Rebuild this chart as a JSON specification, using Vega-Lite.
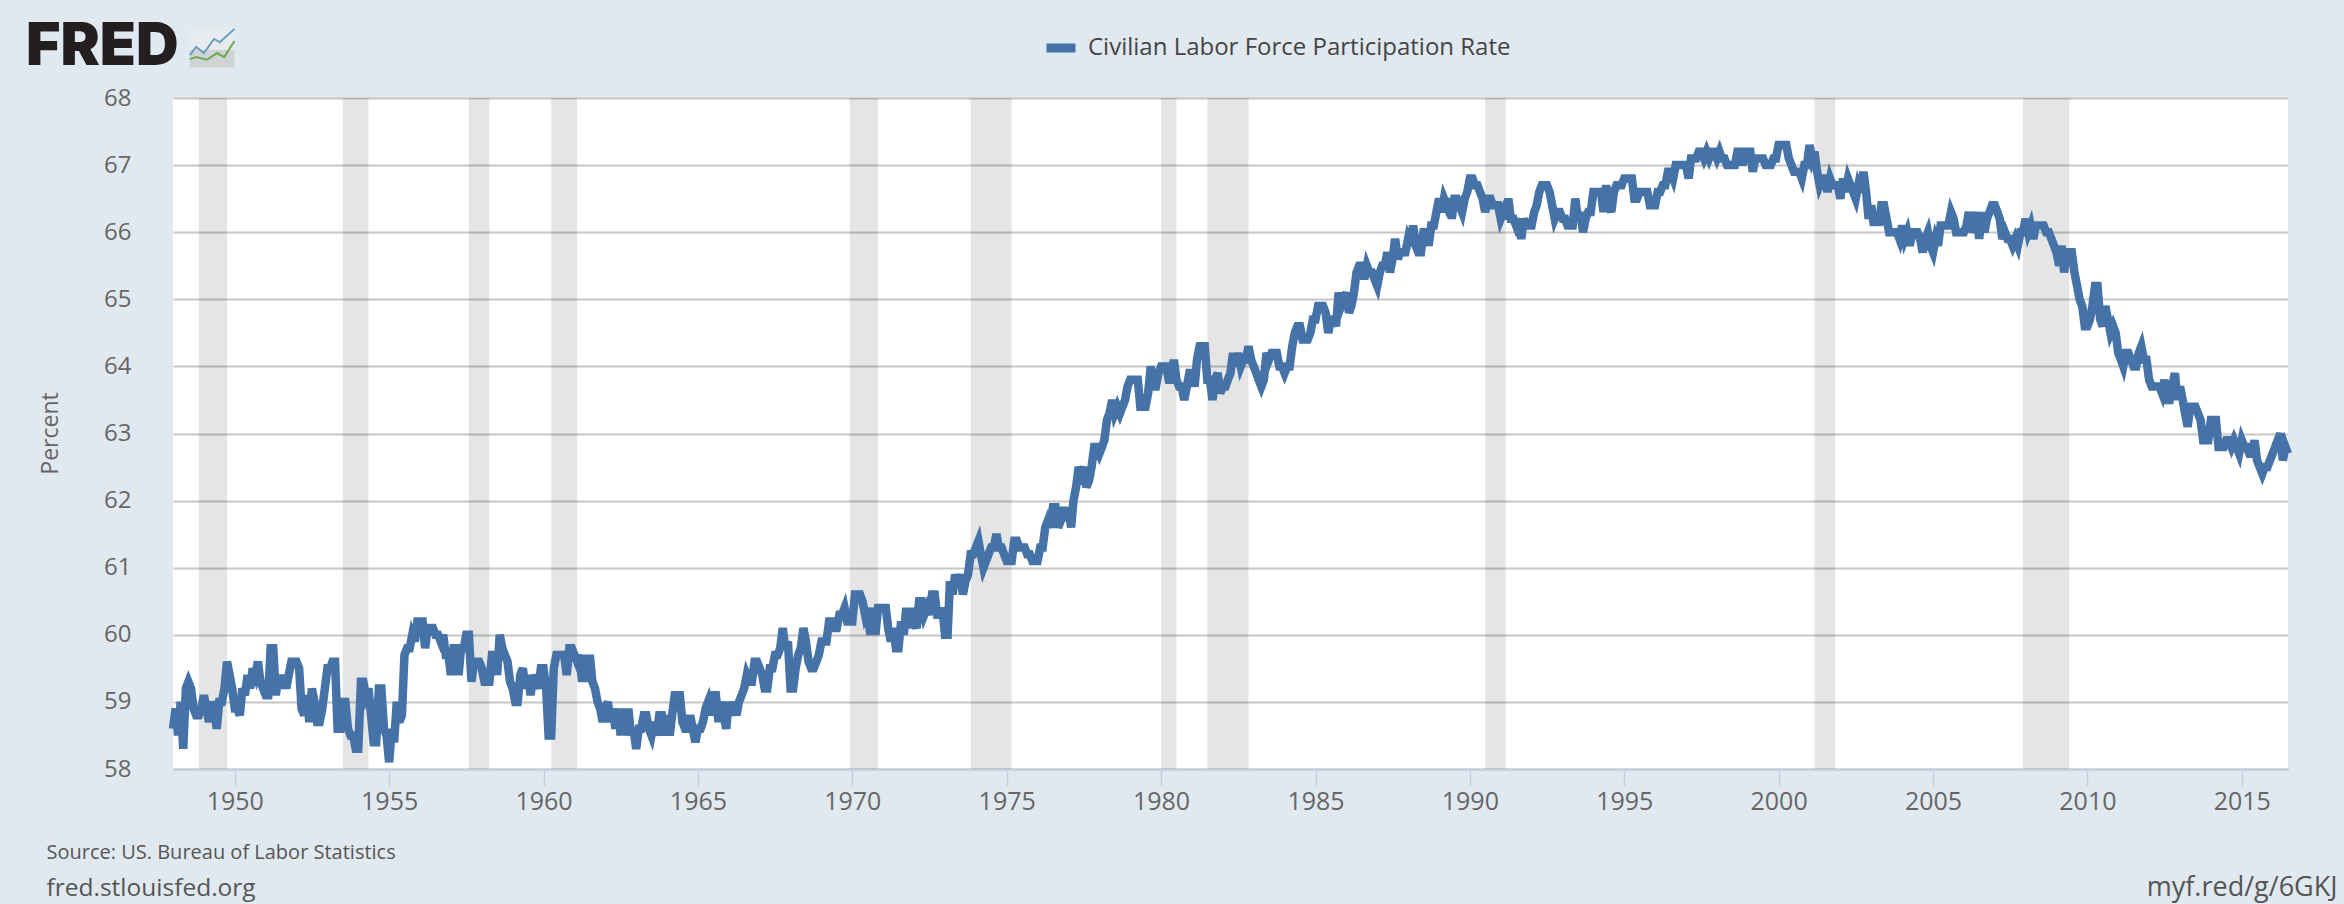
{"$schema":"https://vega.github.io/schema/vega-lite/v6.json","width":2115,"height":671,"autosize":{"type":"none"},"padding":{"left":173,"top":98,"right":56,"bottom":135},"background":"#e1e9f0","view":{"fill":"#ffffff","stroke":null},"title":{"text":"FRED","anchor":"start","frame":"group","dx":-147,"dy":52,"offset":0,"font":"Inter","fontSize":59,"fontWeight":900,"color":"#231f20"},"datasets":{"participation":[
{"date":"1948-01","rate":58.6},{"date":"1948-02","rate":58.9},{"date":"1948-03","rate":58.5},{"date":"1948-04","rate":59.0},{"date":"1948-05","rate":58.3},{"date":"1948-06","rate":59.2},{"date":"1948-07","rate":59.3},{"date":"1948-08","rate":59.2},{"date":"1948-09","rate":58.9},{"date":"1948-10","rate":58.8},{"date":"1948-11","rate":58.8},{"date":"1948-12","rate":58.9},
{"date":"1949-01","rate":59.1},{"date":"1949-02","rate":58.9},{"date":"1949-03","rate":58.7},{"date":"1949-04","rate":59.0},{"date":"1949-05","rate":58.9},{"date":"1949-06","rate":58.6},{"date":"1949-07","rate":59.0},{"date":"1949-08","rate":59.0},{"date":"1949-09","rate":59.2},{"date":"1949-10","rate":59.6},{"date":"1949-11","rate":59.4},{"date":"1949-12","rate":59.2},
{"date":"1950-01","rate":58.9},{"date":"1950-02","rate":58.9},{"date":"1950-03","rate":58.8},{"date":"1950-04","rate":59.2},{"date":"1950-05","rate":59.1},{"date":"1950-06","rate":59.4},{"date":"1950-07","rate":59.2},{"date":"1950-08","rate":59.5},{"date":"1950-09","rate":59.4},{"date":"1950-10","rate":59.6},{"date":"1950-11","rate":59.3},{"date":"1950-12","rate":59.2},
{"date":"1951-01","rate":59.1},{"date":"1951-02","rate":59.1},{"date":"1951-03","rate":59.8},{"date":"1951-04","rate":59.8},{"date":"1951-05","rate":59.1},{"date":"1951-06","rate":59.4},{"date":"1951-07","rate":59.2},{"date":"1951-08","rate":59.4},{"date":"1951-09","rate":59.2},{"date":"1951-10","rate":59.4},{"date":"1951-11","rate":59.6},{"date":"1951-12","rate":59.6},
{"date":"1952-01","rate":59.6},{"date":"1952-02","rate":59.5},{"date":"1952-03","rate":58.9},{"date":"1952-04","rate":58.8},{"date":"1952-05","rate":59.1},{"date":"1952-06","rate":58.7},{"date":"1952-07","rate":59.2},{"date":"1952-08","rate":59.0},{"date":"1952-09","rate":58.7},{"date":"1952-10","rate":58.7},{"date":"1952-11","rate":58.9},{"date":"1952-12","rate":59.2},
{"date":"1953-01","rate":59.5},{"date":"1953-02","rate":59.5},{"date":"1953-03","rate":59.6},{"date":"1953-04","rate":59.6},{"date":"1953-05","rate":58.6},{"date":"1953-06","rate":58.6},{"date":"1953-07","rate":59.0},{"date":"1953-08","rate":59.0},{"date":"1953-09","rate":58.6},{"date":"1953-10","rate":58.5},{"date":"1953-11","rate":58.5},{"date":"1953-12","rate":58.3},
{"date":"1954-01","rate":58.3},{"date":"1954-02","rate":59.3},{"date":"1954-03","rate":59.3},{"date":"1954-04","rate":59.1},{"date":"1954-05","rate":59.2},{"date":"1954-06","rate":58.8},{"date":"1954-07","rate":58.4},{"date":"1954-08","rate":58.4},{"date":"1954-09","rate":59.2},{"date":"1954-10","rate":59.2},{"date":"1954-11","rate":58.6},{"date":"1954-12","rate":58.5},
{"date":"1955-01","rate":58.1},{"date":"1955-02","rate":58.6},{"date":"1955-03","rate":58.4},{"date":"1955-04","rate":59.0},{"date":"1955-05","rate":58.7},{"date":"1955-06","rate":58.8},{"date":"1955-07","rate":59.7},{"date":"1955-08","rate":59.8},{"date":"1955-09","rate":59.8},{"date":"1955-10","rate":60.0},{"date":"1955-11","rate":59.9},{"date":"1955-12","rate":60.2},
{"date":"1956-01","rate":60.2},{"date":"1956-02","rate":60.2},{"date":"1956-03","rate":59.8},{"date":"1956-04","rate":60.1},{"date":"1956-05","rate":60.1},{"date":"1956-06","rate":60.1},{"date":"1956-07","rate":60.0},{"date":"1956-08","rate":60.0},{"date":"1956-09","rate":59.9},{"date":"1956-10","rate":60.0},{"date":"1956-11","rate":59.7},{"date":"1956-12","rate":59.7},
{"date":"1957-01","rate":59.4},{"date":"1957-02","rate":59.8},{"date":"1957-03","rate":59.8},{"date":"1957-04","rate":59.4},{"date":"1957-05","rate":59.8},{"date":"1957-06","rate":59.8},{"date":"1957-07","rate":60.0},{"date":"1957-08","rate":60.0},{"date":"1957-09","rate":59.3},{"date":"1957-10","rate":59.6},{"date":"1957-11","rate":59.6},{"date":"1957-12","rate":59.6},
{"date":"1958-01","rate":59.5},{"date":"1958-02","rate":59.3},{"date":"1958-03","rate":59.3},{"date":"1958-04","rate":59.3},{"date":"1958-05","rate":59.7},{"date":"1958-06","rate":59.7},{"date":"1958-07","rate":59.4},{"date":"1958-08","rate":60.0},{"date":"1958-09","rate":59.8},{"date":"1958-10","rate":59.7},{"date":"1958-11","rate":59.6},{"date":"1958-12","rate":59.3},
{"date":"1959-01","rate":59.2},{"date":"1959-02","rate":59.0},{"date":"1959-03","rate":59.0},{"date":"1959-04","rate":59.4},{"date":"1959-05","rate":59.5},{"date":"1959-06","rate":59.2},{"date":"1959-07","rate":59.4},{"date":"1959-08","rate":59.1},{"date":"1959-09","rate":59.4},{"date":"1959-10","rate":59.3},{"date":"1959-11","rate":59.2},{"date":"1959-12","rate":59.5},
{"date":"1960-01","rate":59.5},{"date":"1960-02","rate":59.2},{"date":"1960-03","rate":58.5},{"date":"1960-04","rate":58.5},{"date":"1960-05","rate":59.5},{"date":"1960-06","rate":59.7},{"date":"1960-07","rate":59.7},{"date":"1960-08","rate":59.7},{"date":"1960-09","rate":59.7},{"date":"1960-10","rate":59.4},{"date":"1960-11","rate":59.8},{"date":"1960-12","rate":59.8},
{"date":"1961-01","rate":59.7},{"date":"1961-02","rate":59.6},{"date":"1961-03","rate":59.7},{"date":"1961-04","rate":59.3},{"date":"1961-05","rate":59.7},{"date":"1961-06","rate":59.3},{"date":"1961-07","rate":59.7},{"date":"1961-08","rate":59.3},{"date":"1961-09","rate":59.2},{"date":"1961-10","rate":59.0},{"date":"1961-11","rate":58.9},{"date":"1961-12","rate":58.7},
{"date":"1962-01","rate":58.9},{"date":"1962-02","rate":59.0},{"date":"1962-03","rate":58.7},{"date":"1962-04","rate":58.9},{"date":"1962-05","rate":58.6},{"date":"1962-06","rate":58.9},{"date":"1962-07","rate":58.5},{"date":"1962-08","rate":58.9},{"date":"1962-09","rate":58.5},{"date":"1962-10","rate":58.9},{"date":"1962-11","rate":58.5},{"date":"1962-12","rate":58.6},
{"date":"1963-01","rate":58.3},{"date":"1963-02","rate":58.6},{"date":"1963-03","rate":58.6},{"date":"1963-04","rate":58.8},{"date":"1963-05","rate":58.8},{"date":"1963-06","rate":58.6},{"date":"1963-07","rate":58.5},{"date":"1963-08","rate":58.7},{"date":"1963-09","rate":58.5},{"date":"1963-10","rate":58.8},{"date":"1963-11","rate":58.8},{"date":"1963-12","rate":58.5},
{"date":"1964-01","rate":58.8},{"date":"1964-02","rate":58.5},{"date":"1964-03","rate":58.8},{"date":"1964-04","rate":59.1},{"date":"1964-05","rate":59.1},{"date":"1964-06","rate":59.1},{"date":"1964-07","rate":58.7},{"date":"1964-08","rate":58.6},{"date":"1964-09","rate":58.6},{"date":"1964-10","rate":58.8},{"date":"1964-11","rate":58.6},{"date":"1964-12","rate":58.4},
{"date":"1965-01","rate":58.6},{"date":"1965-02","rate":58.6},{"date":"1965-03","rate":58.7},{"date":"1965-04","rate":58.9},{"date":"1965-05","rate":59.0},{"date":"1965-06","rate":58.8},{"date":"1965-07","rate":59.1},{"date":"1965-08","rate":59.1},{"date":"1965-09","rate":58.7},{"date":"1965-10","rate":59.0},{"date":"1965-11","rate":58.8},{"date":"1965-12","rate":58.6},
{"date":"1966-01","rate":59.0},{"date":"1966-02","rate":58.8},{"date":"1966-03","rate":59.0},{"date":"1966-04","rate":58.8},{"date":"1966-05","rate":59.0},{"date":"1966-06","rate":59.1},{"date":"1966-07","rate":59.2},{"date":"1966-08","rate":59.4},{"date":"1966-09","rate":59.3},{"date":"1966-10","rate":59.3},{"date":"1966-11","rate":59.6},{"date":"1966-12","rate":59.6},
{"date":"1967-01","rate":59.5},{"date":"1967-02","rate":59.4},{"date":"1967-03","rate":59.2},{"date":"1967-04","rate":59.2},{"date":"1967-05","rate":59.5},{"date":"1967-06","rate":59.5},{"date":"1967-07","rate":59.7},{"date":"1967-08","rate":59.7},{"date":"1967-09","rate":59.8},{"date":"1967-10","rate":60.1},{"date":"1967-11","rate":59.8},{"date":"1967-12","rate":59.9},
{"date":"1968-01","rate":59.2},{"date":"1968-02","rate":59.2},{"date":"1968-03","rate":59.5},{"date":"1968-04","rate":59.7},{"date":"1968-05","rate":59.8},{"date":"1968-06","rate":60.1},{"date":"1968-07","rate":59.9},{"date":"1968-08","rate":59.6},{"date":"1968-09","rate":59.5},{"date":"1968-10","rate":59.5},{"date":"1968-11","rate":59.6},{"date":"1968-12","rate":59.7},
{"date":"1969-01","rate":59.9},{"date":"1969-02","rate":59.9},{"date":"1969-03","rate":59.9},{"date":"1969-04","rate":60.2},{"date":"1969-05","rate":60.2},{"date":"1969-06","rate":60.1},{"date":"1969-07","rate":60.1},{"date":"1969-08","rate":60.3},{"date":"1969-09","rate":60.3},{"date":"1969-10","rate":60.4},{"date":"1969-11","rate":60.2},{"date":"1969-12","rate":60.2},
{"date":"1970-01","rate":60.2},{"date":"1970-02","rate":60.6},{"date":"1970-03","rate":60.6},{"date":"1970-04","rate":60.6},{"date":"1970-05","rate":60.5},{"date":"1970-06","rate":60.3},{"date":"1970-07","rate":60.4},{"date":"1970-08","rate":60.0},{"date":"1970-09","rate":60.4},{"date":"1970-10","rate":60.0},{"date":"1970-11","rate":60.4},{"date":"1970-12","rate":60.4},
{"date":"1971-01","rate":60.4},{"date":"1971-02","rate":60.4},{"date":"1971-03","rate":60.1},{"date":"1971-04","rate":59.9},{"date":"1971-05","rate":60.1},{"date":"1971-06","rate":59.8},{"date":"1971-07","rate":59.8},{"date":"1971-08","rate":60.2},{"date":"1971-09","rate":60.0},{"date":"1971-10","rate":60.4},{"date":"1971-11","rate":60.1},{"date":"1971-12","rate":60.4},
{"date":"1972-01","rate":60.2},{"date":"1972-02","rate":60.1},{"date":"1972-03","rate":60.5},{"date":"1972-04","rate":60.5},{"date":"1972-05","rate":60.3},{"date":"1972-06","rate":60.4},{"date":"1972-07","rate":60.3},{"date":"1972-08","rate":60.6},{"date":"1972-09","rate":60.6},{"date":"1972-10","rate":60.3},{"date":"1972-11","rate":60.3},{"date":"1972-12","rate":60.4},
{"date":"1973-01","rate":60.0},{"date":"1973-02","rate":60.0},{"date":"1973-03","rate":60.8},{"date":"1973-04","rate":60.6},{"date":"1973-05","rate":60.9},{"date":"1973-06","rate":60.7},{"date":"1973-07","rate":60.9},{"date":"1973-08","rate":60.6},{"date":"1973-09","rate":60.8},{"date":"1973-10","rate":60.9},{"date":"1973-11","rate":61.2},{"date":"1973-12","rate":61.2},
{"date":"1974-01","rate":61.3},{"date":"1974-02","rate":61.4},{"date":"1974-03","rate":61.2},{"date":"1974-04","rate":61.0},{"date":"1974-05","rate":61.1},{"date":"1974-06","rate":61.2},{"date":"1974-07","rate":61.3},{"date":"1974-08","rate":61.3},{"date":"1974-09","rate":61.5},{"date":"1974-10","rate":61.3},{"date":"1974-11","rate":61.3},{"date":"1974-12","rate":61.2},
{"date":"1975-01","rate":61.1},{"date":"1975-02","rate":61.1},{"date":"1975-03","rate":61.1},{"date":"1975-04","rate":61.4},{"date":"1975-05","rate":61.4},{"date":"1975-06","rate":61.3},{"date":"1975-07","rate":61.3},{"date":"1975-08","rate":61.3},{"date":"1975-09","rate":61.2},{"date":"1975-10","rate":61.2},{"date":"1975-11","rate":61.1},{"date":"1975-12","rate":61.1},
{"date":"1976-01","rate":61.1},{"date":"1976-02","rate":61.3},{"date":"1976-03","rate":61.3},{"date":"1976-04","rate":61.6},{"date":"1976-05","rate":61.7},{"date":"1976-06","rate":61.6},{"date":"1976-07","rate":61.9},{"date":"1976-08","rate":61.9},{"date":"1976-09","rate":61.6},{"date":"1976-10","rate":61.7},{"date":"1976-11","rate":61.9},{"date":"1976-12","rate":61.7},
{"date":"1977-01","rate":61.9},{"date":"1977-02","rate":61.6},{"date":"1977-03","rate":62.0},{"date":"1977-04","rate":62.2},{"date":"1977-05","rate":62.5},{"date":"1977-06","rate":62.4},{"date":"1977-07","rate":62.5},{"date":"1977-08","rate":62.2},{"date":"1977-09","rate":62.3},{"date":"1977-10","rate":62.5},{"date":"1977-11","rate":62.8},{"date":"1977-12","rate":62.8},
{"date":"1978-01","rate":62.7},{"date":"1978-02","rate":62.8},{"date":"1978-03","rate":62.9},{"date":"1978-04","rate":63.2},{"date":"1978-05","rate":63.3},{"date":"1978-06","rate":63.5},{"date":"1978-07","rate":63.3},{"date":"1978-08","rate":63.4},{"date":"1978-09","rate":63.3},{"date":"1978-10","rate":63.4},{"date":"1978-11","rate":63.5},{"date":"1978-12","rate":63.7},
{"date":"1979-01","rate":63.8},{"date":"1979-02","rate":63.8},{"date":"1979-03","rate":63.8},{"date":"1979-04","rate":63.8},{"date":"1979-05","rate":63.4},{"date":"1979-06","rate":63.4},{"date":"1979-07","rate":63.4},{"date":"1979-08","rate":63.6},{"date":"1979-09","rate":64.0},{"date":"1979-10","rate":63.7},{"date":"1979-11","rate":63.7},{"date":"1979-12","rate":63.9},
{"date":"1980-01","rate":64.0},{"date":"1980-02","rate":64.0},{"date":"1980-03","rate":64.0},{"date":"1980-04","rate":63.8},{"date":"1980-05","rate":63.8},{"date":"1980-06","rate":64.1},{"date":"1980-07","rate":63.8},{"date":"1980-08","rate":63.7},{"date":"1980-09","rate":63.7},{"date":"1980-10","rate":63.5},{"date":"1980-11","rate":63.7},{"date":"1980-12","rate":63.9},
{"date":"1981-01","rate":63.9},{"date":"1981-02","rate":63.7},{"date":"1981-03","rate":64.1},{"date":"1981-04","rate":64.3},{"date":"1981-05","rate":64.3},{"date":"1981-06","rate":64.3},{"date":"1981-07","rate":63.8},{"date":"1981-08","rate":63.8},{"date":"1981-09","rate":63.5},{"date":"1981-10","rate":63.8},{"date":"1981-11","rate":63.9},{"date":"1981-12","rate":63.6},
{"date":"1982-01","rate":63.7},{"date":"1982-02","rate":63.7},{"date":"1982-03","rate":63.8},{"date":"1982-04","rate":63.9},{"date":"1982-05","rate":64.2},{"date":"1982-06","rate":64.0},{"date":"1982-07","rate":64.2},{"date":"1982-08","rate":64.0},{"date":"1982-09","rate":64.1},{"date":"1982-10","rate":64.1},{"date":"1982-11","rate":64.3},{"date":"1982-12","rate":64.1},
{"date":"1983-01","rate":64.0},{"date":"1983-02","rate":63.9},{"date":"1983-03","rate":63.8},{"date":"1983-04","rate":63.7},{"date":"1983-05","rate":63.8},{"date":"1983-06","rate":64.2},{"date":"1983-07","rate":64.1},{"date":"1983-08","rate":64.2},{"date":"1983-09","rate":64.2},{"date":"1983-10","rate":64.2},{"date":"1983-11","rate":64.0},{"date":"1983-12","rate":64.0},
{"date":"1984-01","rate":63.9},{"date":"1984-02","rate":64.0},{"date":"1984-03","rate":64.0},{"date":"1984-04","rate":64.3},{"date":"1984-05","rate":64.5},{"date":"1984-06","rate":64.6},{"date":"1984-07","rate":64.6},{"date":"1984-08","rate":64.4},{"date":"1984-09","rate":64.4},{"date":"1984-10","rate":64.4},{"date":"1984-11","rate":64.5},{"date":"1984-12","rate":64.7},
{"date":"1985-01","rate":64.7},{"date":"1985-02","rate":64.9},{"date":"1985-03","rate":64.9},{"date":"1985-04","rate":64.9},{"date":"1985-05","rate":64.8},{"date":"1985-06","rate":64.5},{"date":"1985-07","rate":64.7},{"date":"1985-08","rate":64.7},{"date":"1985-09","rate":64.6},{"date":"1985-10","rate":65.1},{"date":"1985-11","rate":64.9},{"date":"1985-12","rate":65.0},
{"date":"1986-01","rate":65.1},{"date":"1986-02","rate":64.8},{"date":"1986-03","rate":64.9},{"date":"1986-04","rate":65.1},{"date":"1986-05","rate":65.4},{"date":"1986-06","rate":65.5},{"date":"1986-07","rate":65.5},{"date":"1986-08","rate":65.3},{"date":"1986-09","rate":65.5},{"date":"1986-10","rate":65.4},{"date":"1986-11","rate":65.4},{"date":"1986-12","rate":65.3},
{"date":"1987-01","rate":65.2},{"date":"1987-02","rate":65.4},{"date":"1987-03","rate":65.5},{"date":"1987-04","rate":65.5},{"date":"1987-05","rate":65.7},{"date":"1987-06","rate":65.4},{"date":"1987-07","rate":65.6},{"date":"1987-08","rate":65.9},{"date":"1987-09","rate":65.6},{"date":"1987-10","rate":65.7},{"date":"1987-11","rate":65.7},{"date":"1987-12","rate":65.7},
{"date":"1988-01","rate":65.9},{"date":"1988-02","rate":65.8},{"date":"1988-03","rate":66.1},{"date":"1988-04","rate":65.8},{"date":"1988-05","rate":65.7},{"date":"1988-06","rate":65.7},{"date":"1988-07","rate":66.0},{"date":"1988-08","rate":66.0},{"date":"1988-09","rate":65.8},{"date":"1988-10","rate":66.1},{"date":"1988-11","rate":66.1},{"date":"1988-12","rate":66.3},
{"date":"1989-01","rate":66.5},{"date":"1989-02","rate":66.3},{"date":"1989-03","rate":66.5},{"date":"1989-04","rate":66.4},{"date":"1989-05","rate":66.5},{"date":"1989-06","rate":66.2},{"date":"1989-07","rate":66.5},{"date":"1989-08","rate":66.5},{"date":"1989-09","rate":66.4},{"date":"1989-10","rate":66.3},{"date":"1989-11","rate":66.5},{"date":"1989-12","rate":66.6},
{"date":"1990-01","rate":66.8},{"date":"1990-02","rate":66.8},{"date":"1990-03","rate":66.7},{"date":"1990-04","rate":66.7},{"date":"1990-05","rate":66.6},{"date":"1990-06","rate":66.5},{"date":"1990-07","rate":66.3},{"date":"1990-08","rate":66.5},{"date":"1990-09","rate":66.5},{"date":"1990-10","rate":66.4},{"date":"1990-11","rate":66.4},{"date":"1990-12","rate":66.4},
{"date":"1991-01","rate":66.2},{"date":"1991-02","rate":66.3},{"date":"1991-03","rate":66.2},{"date":"1991-04","rate":66.5},{"date":"1991-05","rate":66.2},{"date":"1991-06","rate":66.2},{"date":"1991-07","rate":66.1},{"date":"1991-08","rate":66.2},{"date":"1991-09","rate":65.9},{"date":"1991-10","rate":66.2},{"date":"1991-11","rate":66.1},{"date":"1991-12","rate":66.1},
{"date":"1992-01","rate":66.1},{"date":"1992-02","rate":66.3},{"date":"1992-03","rate":66.4},{"date":"1992-04","rate":66.6},{"date":"1992-05","rate":66.7},{"date":"1992-06","rate":66.7},{"date":"1992-07","rate":66.7},{"date":"1992-08","rate":66.6},{"date":"1992-09","rate":66.4},{"date":"1992-10","rate":66.2},{"date":"1992-11","rate":66.3},{"date":"1992-12","rate":66.3},
{"date":"1993-01","rate":66.2},{"date":"1993-02","rate":66.2},{"date":"1993-03","rate":66.1},{"date":"1993-04","rate":66.1},{"date":"1993-05","rate":66.1},{"date":"1993-06","rate":66.5},{"date":"1993-07","rate":66.2},{"date":"1993-08","rate":66.3},{"date":"1993-09","rate":66.0},{"date":"1993-10","rate":66.2},{"date":"1993-11","rate":66.3},{"date":"1993-12","rate":66.3},
{"date":"1994-01","rate":66.6},{"date":"1994-02","rate":66.6},{"date":"1994-03","rate":66.6},{"date":"1994-04","rate":66.6},{"date":"1994-05","rate":66.3},{"date":"1994-06","rate":66.7},{"date":"1994-07","rate":66.4},{"date":"1994-08","rate":66.3},{"date":"1994-09","rate":66.6},{"date":"1994-10","rate":66.7},{"date":"1994-11","rate":66.7},{"date":"1994-12","rate":66.7},
{"date":"1995-01","rate":66.8},{"date":"1995-02","rate":66.8},{"date":"1995-03","rate":66.8},{"date":"1995-04","rate":66.8},{"date":"1995-05","rate":66.5},{"date":"1995-06","rate":66.5},{"date":"1995-07","rate":66.6},{"date":"1995-08","rate":66.6},{"date":"1995-09","rate":66.6},{"date":"1995-10","rate":66.6},{"date":"1995-11","rate":66.4},{"date":"1995-12","rate":66.4},
{"date":"1996-01","rate":66.4},{"date":"1996-02","rate":66.6},{"date":"1996-03","rate":66.6},{"date":"1996-04","rate":66.7},{"date":"1996-05","rate":66.7},{"date":"1996-06","rate":66.9},{"date":"1996-07","rate":66.9},{"date":"1996-08","rate":66.8},{"date":"1996-09","rate":67.0},{"date":"1996-10","rate":67.0},{"date":"1996-11","rate":67.0},{"date":"1996-12","rate":67.0},
{"date":"1997-01","rate":67.0},{"date":"1997-02","rate":66.8},{"date":"1997-03","rate":67.1},{"date":"1997-04","rate":67.1},{"date":"1997-05","rate":67.1},{"date":"1997-06","rate":67.2},{"date":"1997-07","rate":67.2},{"date":"1997-08","rate":67.1},{"date":"1997-09","rate":67.2},{"date":"1997-10","rate":67.1},{"date":"1997-11","rate":67.2},{"date":"1997-12","rate":67.2},
{"date":"1998-01","rate":67.1},{"date":"1998-02","rate":67.2},{"date":"1998-03","rate":67.1},{"date":"1998-04","rate":67.1},{"date":"1998-05","rate":67.0},{"date":"1998-06","rate":67.0},{"date":"1998-07","rate":67.0},{"date":"1998-08","rate":67.0},{"date":"1998-09","rate":67.2},{"date":"1998-10","rate":67.2},{"date":"1998-11","rate":67.0},{"date":"1998-12","rate":67.2},
{"date":"1999-01","rate":67.2},{"date":"1999-02","rate":67.2},{"date":"1999-03","rate":66.9},{"date":"1999-04","rate":67.1},{"date":"1999-05","rate":67.1},{"date":"1999-06","rate":67.1},{"date":"1999-07","rate":67.1},{"date":"1999-08","rate":67.0},{"date":"1999-09","rate":67.0},{"date":"1999-10","rate":67.0},{"date":"1999-11","rate":67.1},{"date":"1999-12","rate":67.1},
{"date":"2000-01","rate":67.3},{"date":"2000-02","rate":67.3},{"date":"2000-03","rate":67.3},{"date":"2000-04","rate":67.3},{"date":"2000-05","rate":67.1},{"date":"2000-06","rate":67.0},{"date":"2000-07","rate":66.9},{"date":"2000-08","rate":66.9},{"date":"2000-09","rate":66.9},{"date":"2000-10","rate":66.8},{"date":"2000-11","rate":67.0},{"date":"2000-12","rate":67.0},
{"date":"2001-01","rate":67.3},{"date":"2001-02","rate":67.1},{"date":"2001-03","rate":67.2},{"date":"2001-04","rate":66.9},{"date":"2001-05","rate":66.7},{"date":"2001-06","rate":66.8},{"date":"2001-07","rate":66.8},{"date":"2001-08","rate":66.6},{"date":"2001-09","rate":66.8},{"date":"2001-10","rate":66.7},{"date":"2001-11","rate":66.7},{"date":"2001-12","rate":66.7},
{"date":"2002-01","rate":66.5},{"date":"2002-02","rate":66.8},{"date":"2002-03","rate":66.6},{"date":"2002-04","rate":66.8},{"date":"2002-05","rate":66.7},{"date":"2002-06","rate":66.6},{"date":"2002-07","rate":66.5},{"date":"2002-08","rate":66.7},{"date":"2002-09","rate":66.6},{"date":"2002-10","rate":66.9},{"date":"2002-11","rate":66.6},{"date":"2002-12","rate":66.2},
{"date":"2003-01","rate":66.4},{"date":"2003-02","rate":66.1},{"date":"2003-03","rate":66.3},{"date":"2003-04","rate":66.1},{"date":"2003-05","rate":66.4},{"date":"2003-06","rate":66.4},{"date":"2003-07","rate":66.2},{"date":"2003-08","rate":66.0},{"date":"2003-09","rate":66.0},{"date":"2003-10","rate":66.0},{"date":"2003-11","rate":66.0},{"date":"2003-12","rate":65.9},
{"date":"2004-01","rate":66.1},{"date":"2004-02","rate":65.9},{"date":"2004-03","rate":66.0},{"date":"2004-04","rate":65.8},{"date":"2004-05","rate":66.0},{"date":"2004-06","rate":66.0},{"date":"2004-07","rate":66.0},{"date":"2004-08","rate":65.9},{"date":"2004-09","rate":65.7},{"date":"2004-10","rate":65.9},{"date":"2004-11","rate":66.0},{"date":"2004-12","rate":65.8},
{"date":"2005-01","rate":65.7},{"date":"2005-02","rate":65.9},{"date":"2005-03","rate":65.8},{"date":"2005-04","rate":66.1},{"date":"2005-05","rate":66.1},{"date":"2005-06","rate":66.1},{"date":"2005-07","rate":66.1},{"date":"2005-08","rate":66.3},{"date":"2005-09","rate":66.2},{"date":"2005-10","rate":66.0},{"date":"2005-11","rate":66.0},{"date":"2005-12","rate":66.0},
{"date":"2006-01","rate":66.0},{"date":"2006-02","rate":66.1},{"date":"2006-03","rate":66.3},{"date":"2006-04","rate":66.0},{"date":"2006-05","rate":66.1},{"date":"2006-06","rate":66.3},{"date":"2006-07","rate":65.9},{"date":"2006-08","rate":66.3},{"date":"2006-09","rate":66.0},{"date":"2006-10","rate":66.2},{"date":"2006-11","rate":66.3},{"date":"2006-12","rate":66.4},
{"date":"2007-01","rate":66.4},{"date":"2007-02","rate":66.3},{"date":"2007-03","rate":66.2},{"date":"2007-04","rate":65.9},{"date":"2007-05","rate":66.0},{"date":"2007-06","rate":65.9},{"date":"2007-07","rate":65.9},{"date":"2007-08","rate":65.8},{"date":"2007-09","rate":65.9},{"date":"2007-10","rate":65.8},{"date":"2007-11","rate":66.0},{"date":"2007-12","rate":66.0},
{"date":"2008-01","rate":66.2},{"date":"2008-02","rate":66.0},{"date":"2008-03","rate":66.1},{"date":"2008-04","rate":65.9},{"date":"2008-05","rate":66.1},{"date":"2008-06","rate":66.1},{"date":"2008-07","rate":66.1},{"date":"2008-08","rate":66.1},{"date":"2008-09","rate":66.0},{"date":"2008-10","rate":66.0},{"date":"2008-11","rate":65.9},{"date":"2008-12","rate":65.8},
{"date":"2009-01","rate":65.7},{"date":"2009-02","rate":65.5},{"date":"2009-03","rate":65.8},{"date":"2009-04","rate":65.4},{"date":"2009-05","rate":65.7},{"date":"2009-06","rate":65.7},{"date":"2009-07","rate":65.7},{"date":"2009-08","rate":65.4},{"date":"2009-09","rate":65.2},{"date":"2009-10","rate":65.0},{"date":"2009-11","rate":64.9},{"date":"2009-12","rate":64.6},
{"date":"2010-01","rate":64.6},{"date":"2010-02","rate":64.7},{"date":"2010-03","rate":64.9},{"date":"2010-04","rate":65.2},{"date":"2010-05","rate":65.2},{"date":"2010-06","rate":64.7},{"date":"2010-07","rate":64.6},{"date":"2010-08","rate":64.9},{"date":"2010-09","rate":64.7},{"date":"2010-10","rate":64.5},{"date":"2010-11","rate":64.6},{"date":"2010-12","rate":64.5},
{"date":"2011-01","rate":64.2},{"date":"2011-02","rate":64.1},{"date":"2011-03","rate":64.0},{"date":"2011-04","rate":64.2},{"date":"2011-05","rate":64.2},{"date":"2011-06","rate":64.1},{"date":"2011-07","rate":64.0},{"date":"2011-08","rate":64.0},{"date":"2011-09","rate":64.2},{"date":"2011-10","rate":64.3},{"date":"2011-11","rate":64.1},{"date":"2011-12","rate":64.1},
{"date":"2012-01","rate":63.8},{"date":"2012-02","rate":63.7},{"date":"2012-03","rate":63.7},{"date":"2012-04","rate":63.7},{"date":"2012-05","rate":63.7},{"date":"2012-06","rate":63.6},{"date":"2012-07","rate":63.8},{"date":"2012-08","rate":63.5},{"date":"2012-09","rate":63.5},{"date":"2012-10","rate":63.7},{"date":"2012-11","rate":63.9},{"date":"2012-12","rate":63.5},
{"date":"2013-01","rate":63.7},{"date":"2013-02","rate":63.5},{"date":"2013-03","rate":63.3},{"date":"2013-04","rate":63.1},{"date":"2013-05","rate":63.4},{"date":"2013-06","rate":63.4},{"date":"2013-07","rate":63.4},{"date":"2013-08","rate":63.3},{"date":"2013-09","rate":63.2},{"date":"2013-10","rate":62.9},{"date":"2013-11","rate":62.9},{"date":"2013-12","rate":62.9},
{"date":"2014-01","rate":63.2},{"date":"2014-02","rate":63.2},{"date":"2014-03","rate":63.2},{"date":"2014-04","rate":62.8},{"date":"2014-05","rate":62.8},{"date":"2014-06","rate":62.8},{"date":"2014-07","rate":62.9},{"date":"2014-08","rate":62.9},{"date":"2014-09","rate":62.8},{"date":"2014-10","rate":62.9},{"date":"2014-11","rate":62.8},{"date":"2014-12","rate":62.7},
{"date":"2015-01","rate":62.9},{"date":"2015-02","rate":62.8},{"date":"2015-03","rate":62.8},{"date":"2015-04","rate":62.7},{"date":"2015-05","rate":62.7},{"date":"2015-06","rate":62.9},{"date":"2015-07","rate":62.6},{"date":"2015-08","rate":62.5},{"date":"2015-09","rate":62.4},{"date":"2015-10","rate":62.5},{"date":"2015-11","rate":62.5},{"date":"2015-12","rate":62.6},
{"date":"2016-01","rate":62.7},{"date":"2016-02","rate":62.8},{"date":"2016-03","rate":62.9},{"date":"2016-04","rate":63.0},{"date":"2016-05","rate":62.6},{"date":"2016-06","rate":62.8},{"date":"2016-07","rate":62.7}
],
"recessions":[{"start":"1948-11","end":"1949-10"},{"start":"1953-07","end":"1954-05"},{"start":"1957-08","end":"1958-04"},{"start":"1960-04","end":"1961-02"},{"start":"1969-12","end":"1970-11"},{"start":"1973-11","end":"1975-03"},{"start":"1980-01","end":"1980-07"},{"start":"1981-07","end":"1982-11"},{"start":"1990-07","end":"1991-03"},{"start":"2001-03","end":"2001-11"},{"start":"2007-12","end":"2009-06"}],
"logoPanel":[{"start":"1948-07-18","end":"1949-12-28","low":68.46,"high":68.72,"part":"lower"},{"start":"1948-07-18","end":"1949-12-28","low":68.72,"high":69.06,"part":"upper"}],
"logoLines":[{"date":"1948-07-18","value":68.64,"line":"blue"},{"date":"1948-10-01","value":68.76,"line":"blue"},{"date":"1949-01-01","value":68.67,"line":"blue"},{"date":"1949-05-01","value":68.88,"line":"blue"},{"date":"1949-07-08","value":68.83,"line":"blue"},{"date":"1949-12-28","value":69.03,"line":"blue"},{"date":"1948-07-18","value":68.58,"line":"green"},{"date":"1948-10-01","value":68.61,"line":"green"},{"date":"1949-02-05","value":68.57,"line":"green"},{"date":"1949-06-05","value":68.67,"line":"green"},{"date":"1949-08-28","value":68.61,"line":"green"},{"date":"1949-12-28","value":68.85,"line":"green"}]
},
"config":{"font":"Open Sans","axis":{"labelFont":"Open Sans","titleFont":"Open Sans","titleFontWeight":"normal"}},
"resolve":{"axis":{"x":"independent"}},
"layer":[
{"data":{"name":"recessions"},"mark":{"type":"rect","fill":"#000000","opacity":0.1},"encoding":{
"x":{"field":"start","type":"temporal","scale":{"type":"utc","domain":["1948-01-01","2016-07-01"],"nice":false},"axis":{"orient":"bottom","format":"%Y","tickCount":{"interval":"year","step":5},"grid":false,"domainColor":"#c0d0e0","domainWidth":2,"tickColor":"#c0d0e0","tickWidth":1.5,"tickSize":17,"labelFontSize":25,"labelColor":"#666666","labelPadding":3,"labelFlush":false,"labelOverlap":false,"title":"Source: US. Bureau of Labor Statistics","titleFontSize":20,"titleColor":"#555555","titleX":-127,"titleY":73,"titleAlign":"left","titleAnchor":null}},
"x2":{"field":"end"}
}},
{"data":{"name":"logoPanel"},"transform":[{"filter":"datum.part == 'lower'"}],"mark":{"type":"rect","fill":"#cfd3d4"},"encoding":{
"x":{"field":"start","type":"temporal","axis":null},"x2":{"field":"end"},
"y":{"field":"low","type":"quantitative"},"y2":{"field":"high"}
}},
{"data":{"name":"logoPanel"},"transform":[{"filter":"datum.part == 'upper'"}],"mark":{"type":"rect","fill":"#e8ebee"},"encoding":{
"x":{"field":"start","type":"temporal","axis":null},"x2":{"field":"end"},
"y":{"field":"low","type":"quantitative"},"y2":{"field":"high"}
}},
{"data":{"name":"logoLines"},"transform":[{"filter":"datum.line == 'blue'"}],"mark":{"type":"line","strokeWidth":2,"stroke":"#6b9cbd"},"encoding":{
"x":{"field":"date","type":"temporal","axis":null},
"y":{"field":"value","type":"quantitative"}
}},
{"data":{"name":"logoLines"},"transform":[{"filter":"datum.line == 'green'"}],"mark":{"type":"line","strokeWidth":2,"stroke":"#6fa84f"},"encoding":{
"x":{"field":"date","type":"temporal","axis":{"orient":"bottom","domain":false,"ticks":false,"labels":false,"grid":false,"title":"myf.red/g/6GKJ","titleFontSize":27,"titleColor":"#555555","titleX":2164,"titleY":105,"titleAlign":"right","titleAnchor":null}},
"y":{"field":"value","type":"quantitative"}
}},
{"data":{"name":"participation"},"mark":{"type":"line","strokeWidth":8.5,"strokeJoin":"miter","strokeCap":"butt"},"encoding":{
"x":{"field":"date","type":"temporal","axis":{"orient":"bottom","domain":false,"ticks":false,"labels":false,"grid":false,"title":"fred.stlouisfed.org","titleFontSize":24.5,"titleColor":"#555555","titleX":-127,"titleY":107,"titleAlign":"left","titleAnchor":null}},
"y":{"field":"rate","type":"quantitative","scale":{"domain":[58,68],"nice":false,"zero":false},"axis":{"values":[58,59,60,61,62,63,64,65,66,67,68],"format":"d","grid":true,"gridColor":"#c6c6c6","gridWidth":2,"domain":false,"ticks":false,"labelFontSize":24,"labelColor":"#666666","labelPadding":42,"title":"Percent","titleFontSize":23,"titleColor":"#666666","titleX":-111,"titleY":335}},
"color":{"datum":"Civilian Labor Force Participation Rate","scale":{"range":["#4572a7"]},"legend":{"orient":"none","legendX":869,"legendY":-69,"title":null,"symbolType":"stroke","symbolSize":841,"symbolStrokeWidth":9,"labelFontSize":24,"labelColor":"#444444","labelFont":"Open Sans","labelLimit":600,"labelOffset":8}}
}}
]}
